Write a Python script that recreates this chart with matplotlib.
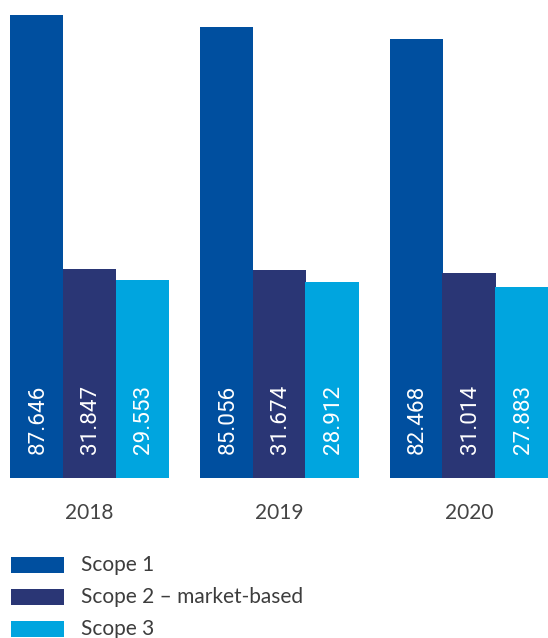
import matplotlib.pyplot as plt
import numpy as np

years = ['2018', '2019', '2020']
scope1 = [87.646, 85.056, 82.468]
scope2 = [31.847, 31.674, 31.014]
scope3 = [29.553, 28.912, 27.883]
names = ['Scope 1', 'Scope 2 – market-based', 'Scope 3']
colors = ['#004f9f', '#2a3675', '#00a5df']

W, H = 548, 638
fig = plt.figure(figsize=(W / 100, H / 100), dpi=100)
# axis area: x from 0 to 548 px, y from 478 px (baseline) to top
ax = fig.add_axes([0, (H - 478) / H, 1, 478 / H])

base = -14.1  # bars in the source are not drawn from zero
x = np.arange(len(years))
w = 0.278
series = [scope1, scope2, scope3]
for i, vals in enumerate(series):
    vals = np.array(vals)
    xs = x + (i - 1) * w
    ax.bar(xs, vals - base, bottom=base, width=w + 0.002, color=colors[i], linewidth=0)
    for xi, v in zip(xs, vals):
        ax.annotate(f'{v:.3f}', (xi, base), xytext=(1, 17.5), textcoords='offset points',
                    rotation=90, ha='center', va='bottom', color='white',
                    fontsize=16.2, family='Roboto')

ax.set_ylim(base, base + 478 / 4.547)
ax.set_xlim(-89.5 / 189.75, (548 - 89.5) / 189.75)
ax.set_xticks(x, years)
ax.tick_params(axis='x', length=0, pad=18, labelsize=15, labelcolor='#444444')
for lab in ax.get_xticklabels():
    lab.set_family('Lato')
ax.set_yticks([])
for s in ax.spines.values():
    s.set_visible(False)

# legend
for i, name in enumerate(names):
    yc = 565 + i * 32
    fig.patches.append(plt.Rectangle((10.5 / W, (H - yc - 8.3) / H), 53 / W, 16.6 / H,
                                     transform=fig.transFigure, color=colors[i], lw=0))
    fig.text(81 / W, (H - yc) / H, name, va='center', ha='left', fontsize=15,
             color='#3d3d3d', family='Lato')

fig.savefig('out.png', dpi=100)
